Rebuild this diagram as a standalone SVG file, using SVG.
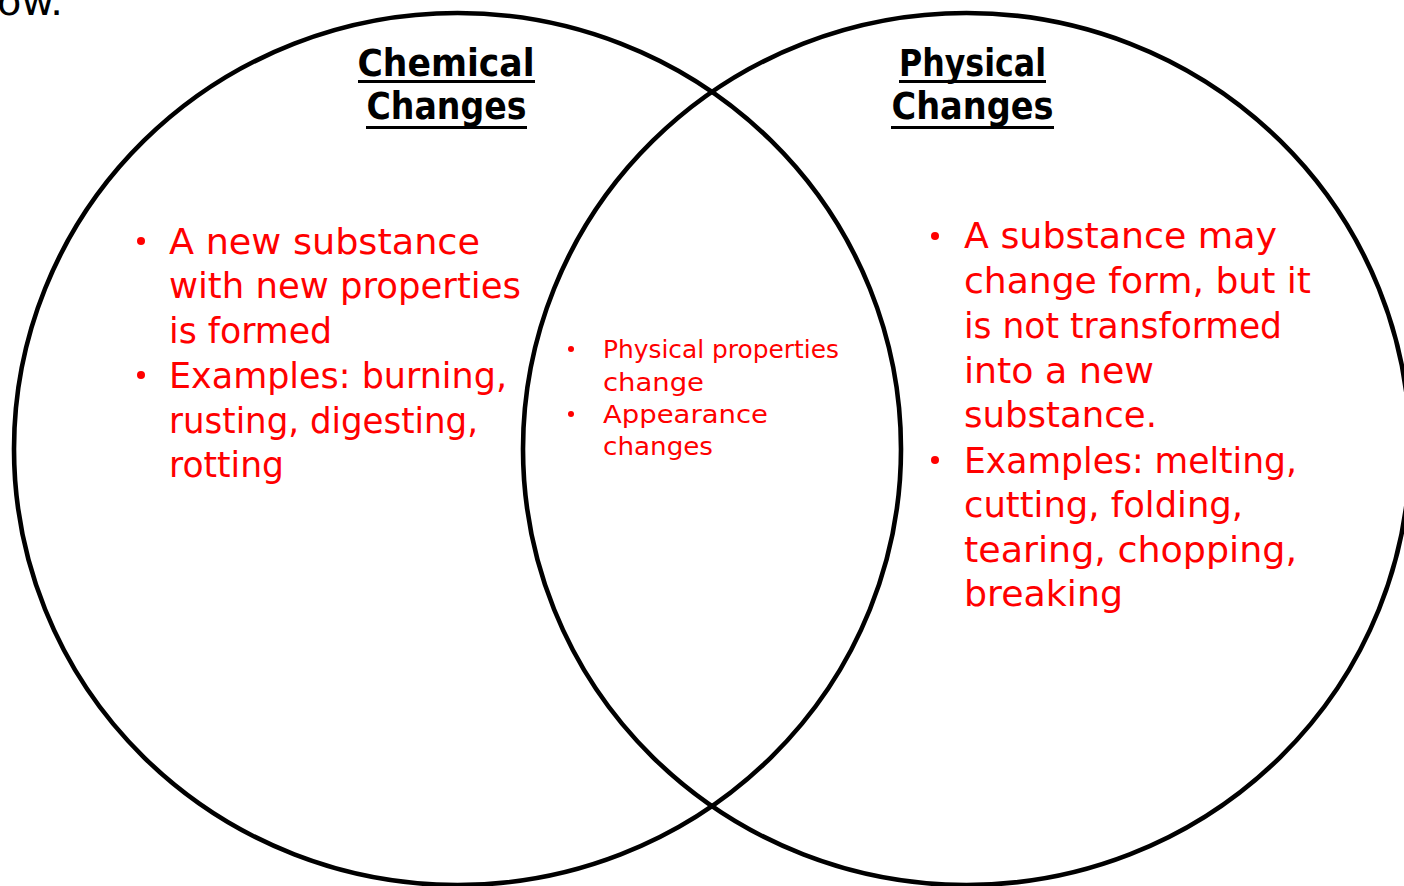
<svg xmlns="http://www.w3.org/2000/svg" width="1404" height="886" viewBox="0 0 1404 886">
  <style>
    .ring { fill: none; stroke: #000; stroke-width: 4.6; }
    .head { font-family: "DejaVu Sans", "Liberation Sans", sans-serif; font-weight: bold; font-size: 37px; fill: #000; text-anchor: middle; }
    .rule { stroke: #000; stroke-width: 3; }
    .big { font-family: "DejaVu Sans", "Liberation Sans", sans-serif; font-size: 36px; fill: #ff0000; }
    .small { font-family: "DejaVu Sans", "Liberation Sans", sans-serif; font-size: 24px; fill: #ff0000; }
    .dot { fill: #ff0000; }
    .stray { font-family: "DejaVu Sans", "Liberation Sans", sans-serif; font-size: 38px; fill: #000; }
  </style>

  <rect x="0" y="0" width="1404" height="886" fill="#fff"/>

  <!-- tail of a sentence above the diagram -->
  <text class="stray" x="-3" y="15" textLength="66" lengthAdjust="spacingAndGlyphs">ow.</text>

  <!-- the two overlapping sets -->
  <g id="connectors"></g>
  <g id="set-chemical">
    <ellipse class="ring" cx="457.5" cy="449" rx="443.5" ry="436"/>
  </g>
  <g id="set-physical">
    <ellipse class="ring" cx="966.5" cy="449" rx="443.5" ry="436"/>
  </g>

  <!-- headings -->
  <g id="title-chemical">
    <text class="head" x="446" y="76" textLength="177" lengthAdjust="spacingAndGlyphs">Chemical</text>
    <line class="rule" x1="358" y1="81.5" x2="535" y2="81.5"/>
    <text class="head" x="446.5" y="119" textLength="160" lengthAdjust="spacingAndGlyphs">Changes</text>
    <line class="rule" x1="366" y1="127.5" x2="527" y2="127.5"/>
  </g>
  <g id="title-physical">
    <text class="head" x="972.5" y="76" textLength="147" lengthAdjust="spacingAndGlyphs">Physical</text>
    <line class="rule" x1="899" y1="81.5" x2="1046" y2="81.5"/>
    <text class="head" x="972.5" y="119" textLength="162" lengthAdjust="spacingAndGlyphs">Changes</text>
    <line class="rule" x1="891" y1="127.5" x2="1054" y2="127.5"/>
  </g>

  <!-- chemical-only notes -->
  <g id="notes-chemical">
    <circle class="dot" cx="141" cy="241" r="4"/>
    <circle class="dot" cx="141" cy="375" r="4"/>
    <text class="big" x="169" y="254" textLength="311" lengthAdjust="spacingAndGlyphs">A new substance</text>
    <text class="big" x="169" y="298" textLength="352" lengthAdjust="spacingAndGlyphs">with new properties</text>
    <text class="big" x="169" y="343" textLength="163" lengthAdjust="spacingAndGlyphs">is formed</text>
    <text class="big" x="169" y="388" textLength="338" lengthAdjust="spacingAndGlyphs">Examples: burning,</text>
    <text class="big" x="169" y="433" textLength="309" lengthAdjust="spacingAndGlyphs">rusting, digesting,</text>
    <text class="big" x="169" y="477" textLength="115" lengthAdjust="spacingAndGlyphs">rotting</text>
  </g>

  <!-- shared notes -->
  <g id="notes-shared">
    <circle class="dot" cx="571" cy="349" r="3"/>
    <circle class="dot" cx="571" cy="414" r="3"/>
    <text class="small" x="603" y="358" textLength="236" lengthAdjust="spacingAndGlyphs">Physical properties</text>
    <text class="small" x="603" y="391" textLength="101" lengthAdjust="spacingAndGlyphs">change</text>
    <text class="small" x="603" y="423" textLength="165" lengthAdjust="spacingAndGlyphs">Appearance</text>
    <text class="small" x="603" y="455" textLength="110" lengthAdjust="spacingAndGlyphs">changes</text>
  </g>

  <!-- physical-only notes -->
  <g id="notes-physical">
    <circle class="dot" cx="935" cy="236" r="4"/>
    <circle class="dot" cx="935" cy="460" r="4"/>
    <text class="big" x="964" y="248" textLength="313" lengthAdjust="spacingAndGlyphs">A substance may</text>
    <text class="big" x="964" y="293" textLength="347" lengthAdjust="spacingAndGlyphs">change form, but it</text>
    <text class="big" x="964" y="338" textLength="318" lengthAdjust="spacingAndGlyphs">is not transformed</text>
    <text class="big" x="964" y="383" textLength="190" lengthAdjust="spacingAndGlyphs">into a new</text>
    <text class="big" x="964" y="427" textLength="193" lengthAdjust="spacingAndGlyphs">substance.</text>
    <text class="big" x="964" y="473" textLength="333" lengthAdjust="spacingAndGlyphs">Examples: melting,</text>
    <text class="big" x="964" y="517" textLength="279" lengthAdjust="spacingAndGlyphs">cutting, folding,</text>
    <text class="big" x="964" y="562" textLength="333" lengthAdjust="spacingAndGlyphs">tearing, chopping,</text>
    <text class="big" x="964" y="606" textLength="159" lengthAdjust="spacingAndGlyphs">breaking</text>
  </g>
</svg>
